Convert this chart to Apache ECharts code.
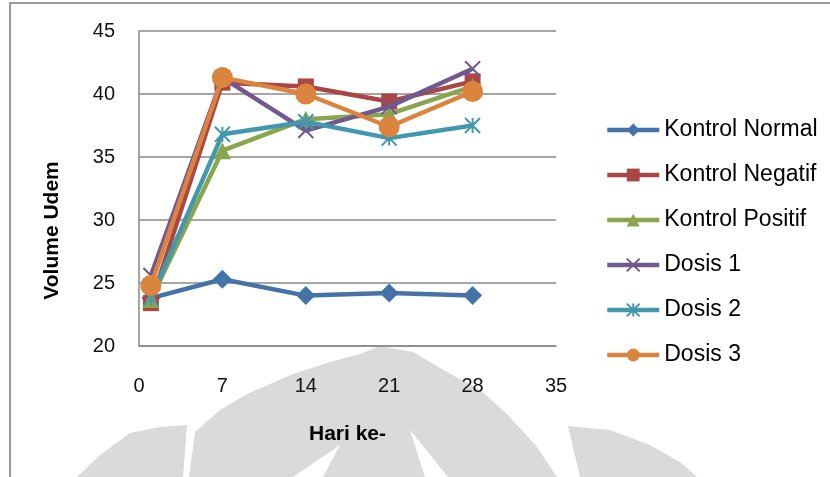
<!DOCTYPE html>
<html>
<head>
<meta charset="utf-8">
<script src="https://cdn.jsdelivr.net/npm/echarts@6/dist/echarts.min.js"></script>
<style>
  html, body { margin: 0; padding: 0; background: #fff; }
  #main { width: 830px; height: 477px; }
</style>
</head>
<body>
<div id="main"></div>
<script>
// hari pengukuran
var hari = [1, 7, 14, 21, 28];

// volume udem tiap kelompok
var kontrolNormal  = [23.8, 25.3, 24.0, 24.2, 24.0];
var kontrolNegatif = [23.4, 40.9, 40.6, 39.4, 41.0];
var kontrolPositif = [23.7, 35.5, 38.0, 38.4, 40.6];
var dosis1         = [25.6, 41.3, 37.1, 39.0, 42.0];
var dosis2         = [23.8, 36.8, 37.8, 36.5, 37.5];
var dosis3         = [24.8, 41.3, 40.0, 37.4, 40.2];

var namaSeri = ['Kontrol Normal', 'Kontrol Negatif', 'Kontrol Positif', 'Dosis 1', 'Dosis 2', 'Dosis 3'];
var xTicks = [0, 7, 14, 21, 28, 35];
var yTicks = [20, 25, 30, 35, 40, 45];

var font = '"Liberation Sans", Arial, sans-serif';

function pasangan(nilai) {
    return hari.map(function (h, i) { return [h, nilai[i]]; });
}

// simbol silang dan bintang ala Excel
var silang = 'path://M0,0L10,10M10,0L0,10';
var bintang = 'path://M0,0L10,10M10,0L0,10M5,0L5,10';

var gaya = [
    { color: '#4572A7', symbol: 'diamond',  size: 19 },
    { color: '#AA4643', symbol: 'rect',     size: 16 },
    { color: '#89A54E', symbol: 'triangle', size: 17 },
    { color: '#71588F', symbol: silang,     size: 15, garis: true },
    { color: '#4198AF', symbol: bintang,    size: 15, garis: true },
    { color: '#DB843D', symbol: 'circle',   size: 21 }
];

var semuaData = [kontrolNormal, kontrolNegatif, kontrolPositif, dosis1, dosis2, dosis3];

var series = semuaData.map(function (d, i) {
    var g = gaya[i];
    return {
        name: namaSeri[i],
        type: 'line',
        data: pasangan(d),
        symbol: g.symbol,
        symbolSize: g.size,
        showAllSymbol: true,
        lineStyle: { color: g.color, width: 4.5 },
        itemStyle: g.garis
            ? { color: 'rgba(0,0,0,0)', borderColor: g.color, borderWidth: 2 }
            : { color: g.color, borderWidth: 0 },
        emphasis: { disabled: true },
        z: 2 + i
    };
});

var chart = echarts.init(document.getElementById('main'));

var option = {
    backgroundColor: '#fff',
    animation: false,
    grid: { left: 139, top: 31, right: 274, bottom: 131, containLabel: false },
    legend: {
        orient: 'vertical',
        left: 605,
        top: 118,
        padding: 0,
        itemWidth: 52,
        itemHeight: 16,
        itemGap: 21,
        lineStyle: { width: 4.5 },
        textStyle: { fontFamily: font, fontSize: 23, color: '#000', lineHeight: 24 },
        data: namaSeri
    },
    xAxis: {
        type: 'value',
        min: xTicks[0],
        max: xTicks[xTicks.length - 1],
        interval: 7,
        name: 'Hari ke-',
        nameLocation: 'middle',
        nameGap: 78,
        nameTextStyle: { fontFamily: font, fontSize: 21, fontWeight: 'bold', color: '#000' },
        axisLine: { lineStyle: { color: '#888', width: 1.5 } },
        axisTick: { show: false },
        splitLine: { show: false },
        axisLabel: { fontFamily: font, fontSize: 20, color: '#111', margin: 30 }
    },
    yAxis: {
        type: 'value',
        min: yTicks[0],
        max: yTicks[yTicks.length - 1],
        interval: 5,
        name: 'Volume Udem',
        nameLocation: 'middle',
        nameGap: 76,
        nameTextStyle: { fontFamily: font, fontSize: 21, fontWeight: 'bold', color: '#000', padding: [0, 84, 0, 0] },
        axisLine: { show: true, lineStyle: { color: '#888', width: 1.5 } },
        axisTick: { show: false },
        splitLine: { lineStyle: { color: '#888', width: 1.5 } },
        axisLabel: { fontFamily: font, fontSize: 20, color: '#111', margin: 24 }
    },
    graphic: [
        // bingkai luar
        { type: 'polyline', z: 0, silent: true,
          shape: { points: [[10, 477], [10, 3], [830, 3]] },
          style: { stroke: '#999', lineWidth: 2, fill: null } },
        // watermark abu-abu di bawah
        { type: 'polygon', z: 0, silent: true,
          shape: { points: [[77, 477], [100, 455], [130, 433], [160, 427], [187, 425], [183, 477]] },
          style: { fill: '#dadada' } },
        { type: 'polygon', z: 0, silent: true,
          shape: { points: [[189, 477], [195, 432], [220, 410], [247, 394], [293, 374], [330, 362], [360, 354], [380, 346],
                            [413, 352], [447, 372], [480, 390], [507, 414], [537, 447], [557, 477]] },
          style: { fill: '#dadada' } },
        { type: 'polygon', z: 0, silent: true,
          shape: { points: [[340, 445], [293, 477], [323, 477]] },
          style: { fill: '#fff' } },
        { type: 'polygon', z: 0, silent: true,
          shape: { points: [[410, 430], [425, 477], [448, 477]] },
          style: { fill: '#fff' } },
        { type: 'polygon', z: 0, silent: true,
          shape: { points: [[568, 426], [610, 430], [650, 445], [680, 462], [697, 477], [580, 477]] },
          style: { fill: '#dadada' } }
    ],
    series: series
};

chart.setOption(option);
</script>
</body>
</html>
